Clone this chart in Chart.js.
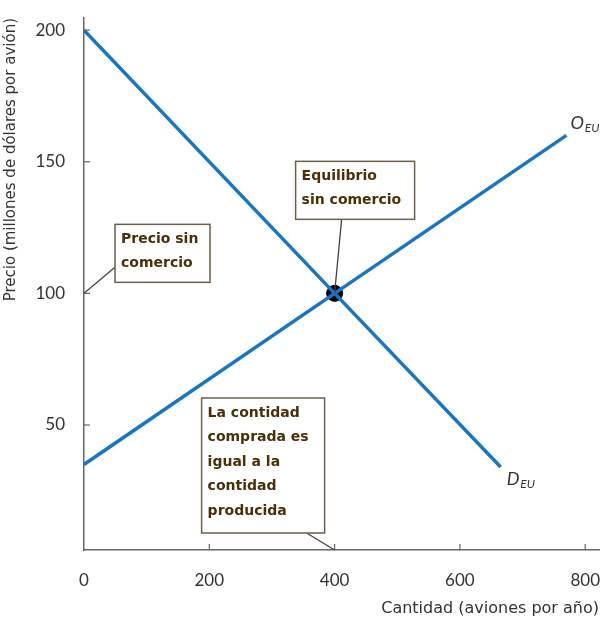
<!DOCTYPE html>
<html>
<head>
<meta charset="utf-8">
<script src="https://cdn.jsdelivr.net/npm/chart.js@4.4.0/dist/chart.umd.min.js"></script>
<style>
    html, body { margin: 0; padding: 0; background: #fff; }
    #wrap { width: 608px; height: 620px; }
</style>
</head>
<body>
<div id="wrap"><canvas id="marketChart" width="608" height="620"></canvas></div>
<script>
// demand and supply of airplanes, US, no trade
const demandQty = [0, 400, 665];
const demandPrice = [200, 100, 34];
const supplyQty = [0, 400, 770];
const supplyPrice = [35, 100, 160];
const eqQty = [400];
const eqPrice = [100];
const xTicks = [0, 200, 400, 600, 800];
const yTicks = [50, 100, 150, 200];

const blue = '#1a76c4';
const inkBrown = '#4a2f08';
const boxEdge = '#6e5f48';
const font = 'Lato, "DejaVu Sans", sans-serif';
const wide = '"DejaVu Sans", sans-serif';

const toPoints = (xs, ys) => xs.map((x, i) => ({ x: x, y: ys[i] }));

// boxes hang off a point on the chart, offsets in px
const notes = [
    { at: [400, 100], box: [-39, -132, 119, 58], from: [46, 58], lines: ['Equilibrio', 'sin comercio'] },
    { at: [0, 100], box: [31, -69, 95, 58], from: [0, 43], lines: ['Precio sin', 'comercio'] },
    { at: [400, 'bottom'], box: [-133, -152, 123, 135], from: [105, 135], lines: ['La contidad', 'comprada es', 'igual a la', 'contidad', 'producida'] }
];

const extras = {
    id: 'extras',
    afterDraw(chart) {
        const c = chart.ctx;
        const xs = chart.scales.x, ys = chart.scales.y;

        // small ticks pointing inward
        c.save();
        c.strokeStyle = '#666';
        c.lineWidth = 1.2;
        xTicks.slice(1).forEach(v => {
            const px = xs.getPixelForValue(v);
            c.beginPath(); c.moveTo(px, ys.bottom); c.lineTo(px, ys.bottom - 6); c.stroke();
        });
        yTicks.forEach(v => {
            const py = ys.getPixelForValue(v);
            c.beginPath(); c.moveTo(xs.left, py); c.lineTo(xs.left + 6, py); c.stroke();
        });
        c.restore();

        // annotation boxes
        notes.forEach(n => {
            const ax = xs.getPixelForValue(n.at[0]);
            const ay = n.at[1] === 'bottom' ? ys.bottom : ys.getPixelForValue(n.at[1]);
            const [bx, by, bw, bh] = n.box;
            const x0 = ax + bx, y0 = ay + by;
            c.save();
            c.strokeStyle = '#444';
            c.lineWidth = 1.3;
            c.beginPath();
            c.moveTo(x0 + n.from[0], y0 + n.from[1]);
            c.lineTo(ax, ay);
            c.stroke();
            c.fillStyle = '#fff';
            c.fillRect(x0, y0, bw, bh);
            c.strokeStyle = boxEdge;
            c.lineWidth = 1.5;
            c.strokeRect(x0, y0, bw, bh);
            c.fillStyle = inkBrown;
            c.font = 'bold 14px ' + wide;
            c.textBaseline = 'middle';
            n.lines.forEach((t, i) => c.fillText(t, x0 + 6, y0 + 15 + i * 24.5));
            c.restore();
        });

        // curve names
        const label = (main, sub, q, p, dx, dy) => {
            const px = xs.getPixelForValue(q) + dx, py = ys.getPixelForValue(p) + dy;
            c.save();
            c.fillStyle = '#333';
            c.textBaseline = 'middle';
            c.font = 'italic 18px ' + font;
            c.fillText(main, px, py);
            const w = c.measureText(main).width;
            c.font = 'italic 12px ' + font;
            c.fillText(sub, px + w + 1, py + 5);
            c.restore();
        };
        label('O', 'EU', supplyQty[2], supplyPrice[2], 4, -12);
        label('D', 'EU', demandQty[2], demandPrice[2], 6, 12);
    }
};

new Chart(document.getElementById('marketChart'), {
    type: 'scatter',
    data: {
        datasets: [
            {
                label: 'Demanda',
                data: toPoints(demandQty, demandPrice),
                showLine: true,
                borderColor: blue,
                borderWidth: 3.5,
                pointRadius: 0
            },
            {
                label: 'Oferta',
                data: toPoints(supplyQty, supplyPrice),
                showLine: true,
                borderColor: blue,
                borderWidth: 3.5,
                pointRadius: 0
            },
            {
                label: 'Equilibrio',
                data: toPoints(eqQty, eqPrice),
                pointRadius: 8,
                pointBackgroundColor: '#000',
                pointBorderColor: '#000'
            }
        ]
    },
    plugins: [extras],
    options: {
        responsive: false,
        animation: false,
        layout: { padding: { top: 18, right: 0, left: 0, bottom: 0 } },
        plugins: {
            legend: { display: false },
            tooltip: { enabled: false }
        },
        scales: {
            x: {
                type: 'linear',
                min: 0,
                max: 822,
                afterBuildTicks: s => { s.ticks = xTicks.map(v => ({ value: v })); },
                afterFit: s => { s.height = 70; s.paddingLeft = 0; s.paddingRight = 0; },
                grid: { display: false, drawTicks: false },
                border: { color: '#666', width: 1.5 },
                ticks: {
                    padding: 20,
                    color: '#333',
                    font: { family: font, size: 17 }
                },
                title: {
                    display: true,
                    align: 'end',
                    text: 'Cantidad (aviones por año)',
                    color: '#333',
                    font: { family: wide, size: 16 },
                    padding: { top: 0, bottom: 2 }
                }
            },
            y: {
                type: 'linear',
                min: 2.5,
                max: 204.6,
                afterBuildTicks: s => { s.ticks = yTicks.map(v => ({ value: v })); },
                afterFit: s => { s.width = 84; s.paddingTop = 0; s.paddingBottom = 0; },
                grid: { display: false, drawTicks: false },
                border: { color: '#666', width: 1.5 },
                ticks: {
                    padding: 19,
                    color: '#333',
                    font: { family: font, size: 17 }
                },
                title: {
                    display: true,
                    align: 'end',
                    text: 'Precio (millones de dólares por avión)',
                    color: '#333',
                    font: { family: wide, size: 15 },
                    padding: { top: 2, bottom: 0 }
                }
            }
        }
    }
});
</script>
</body>
</html>
